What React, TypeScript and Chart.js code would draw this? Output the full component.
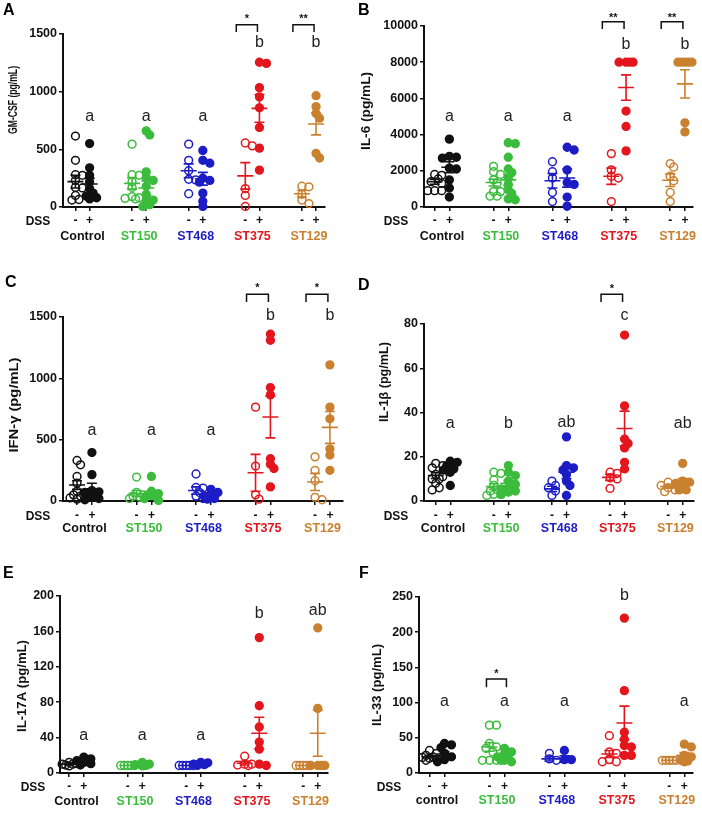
import React, { useEffect, useRef } from 'react';
import { Chart, registerables } from 'chart.js';
Chart.register(...registerables);

const FONT = '"Liberation Sans", Arial, Helvetica, sans-serif';

const groupNames = ['Control', 'ST150', 'ST468', 'ST375', 'ST129'];
const groupNamesF = ['control', 'ST150', 'ST468', 'ST375', 'ST129'];
const groupColors = ['#111111', '#3cbc3c', '#1d1dc6', '#e4161d', '#c98130'];
const dssSigns = ['-', '+'];

// Columns: Control-, Control+, ST150-, ST150+, ST468-, ST468+, ST375-, ST375+, ST129-, ST129+
// A: GM-CSF
const gmcsfPoints: number[][] = [
  [615, 405, 280, 275, 230, 170, 165, 100, 65, 60],
  [550, 340, 275, 220, 160, 120, 95, 80, 70],
  [545, 280, 275, 220, 170, 90, 80, 75, 70],
  [660, 625, 305, 255, 230, 180, 110, 60, 20, 5, 60],
  [545, 405, 315, 240, 235, 115],
  [490, 405, 380, 250, 215, 230, 120, 50, 5],
  [555, 530, 160, 100, 5],
  [1255, 1245, 1035, 955, 860, 690, 510, 320],
  [180, 175, 110, 60, 30],
  [965, 870, 810, 770, 465, 425],
];
const gmcsfMean = [220, 200, 205, 165, 314, 245, 270, 855, 115, 720];
const gmcsfSem = [55, 50, 50, 60, 60, 55, 115, 120, 30, 95];
const gmcsfLetters = ['a', 'a', 'a', 'b', 'b'];
const gmcsfLetterY = [783, 783, 783, 1422, 1422];

// B: IL-6
const il6Points: number[][] = [
  [1800, 1750, 1550, 1300, 1400, 900, 900, 900],
  [3750, 2800, 2750, 2700, 2150, 2100, 1500, 1050, 550],
  [2250, 1950, 1800, 1500, 1300, 850, 850, 600, 600],
  [3550, 3500, 2750, 2100, 1900, 1600, 1250, 950, 750, 450, 400],
  [2500, 1950, 1600, 800, 300],
  [3300, 3150, 2050, 1350, 1250, 550, 50],
  [2950, 2050, 1700, 1600, 300],
  [8000, 8000, 8000, 8000, 5300, 4450, 3100],
  [2400, 2200, 1700, 1450, 800, 300],
  [8000, 8000, 8000, 8000, 8000, 4650, 4150],
];
const il6Mean = [1400, 2200, 1350, 1500, 1450, 1600, 1700, 6600, 1480, 6800];
const il6Sem = [140, 300, 190, 300, 400, 500, 450, 700, 350, 780];
const il6Letters = ['a', 'a', 'a', 'b', 'b'];
const il6LetterY = [5000, 5000, 5000, 8950, 8950];

// C: IFN-gamma
const ifngPoints: number[][] = [
  [330, 295, 200, 145, 80, 65, 50, 40, 25, 15],
  [395, 215, 85, 75, 70, 30, 20, 10],
  [195, 70, 50, 40, 30, 20],
  [200, 80, 60, 50, 45, 40, 20, 5],
  [220, 110, 105, 70, 40, 20],
  [95, 70, 50, 40, 20, 15],
  [765, 285, 50, 15],
  [1360, 1310, 925, 865, 345, 300, 265, 115],
  [360, 250, 165, 30, 10],
  [1110, 765, 670, 425, 375, 250],
];
const ifngMean = [130, 100, 60, 55, 85, 50, 230, 685, 155, 600];
const ifngSem = [35, 45, 25, 22, 30, 12, 150, 170, 70, 130];
const ifngLetters = ['a', 'a', 'a', 'b', 'b'];
const ifngLetterY = [575, 575, 575, 1515, 1515];

// D: IL-1beta
const il1bPoints: number[][] = [
  [17, 16, 15, 12, 11, 10, 10, 8, 6, 5],
  [18, 17.5, 16, 14.5, 14, 13, 7],
  [13, 12.5, 9.5, 7, 5, 4.5, 3, 3, 2.5],
  [16, 13, 11.5, 9, 7.5, 6, 5.5, 4.5, 4, 3],
  [9, 7, 6, 4.5, 2.5],
  [29, 16, 15, 14, 12, 9, 7, 2.5],
  [13, 12.5, 10.5, 10, 5.7],
  [75, 43, 28, 26, 24, 17.5, 14.5],
  [8.5, 7.5, 7, 6, 5, 4.2],
  [17, 9, 8.5, 8, 7, 5, 5],
];
const il1bMean = [11.5, 14.8, 6.5, 8, 5.5, 13, 10.7, 32.8, 6.5, 8.5];
const il1bSem = [1.3, 1.5, 1.3, 1.2, 1.2, 2.8, 1.4, 7.8, 0.7, 1.6];
const il1bLetters = ['a', 'b', 'ab', 'c', 'ab'];
const il1bLetterY = [34.8, 34.8, 35.5, 83.7, 34.8];

// E: IL-17A
const il17Points: number[][] = [
  [12, 11, 10, 10, 9, 8],
  [18, 16, 14, 12, 10.5, 9],
  [8.5, 8.5, 8.5, 8.5, 8.5],
  [12, 10, 9.5, 8.6, 8],
  [8.5, 8.5, 8.5, 8.5, 8.5],
  [12, 11.5, 10, 9.5, 8.6],
  [19, 10, 10, 9, 8.5],
  [153, 76, 52, 35, 27, 10, 8.5],
  [8.5, 8.5, 8.5, 8.5, 8.5],
  [164, 73, 8.5, 8.5, 8.5, 8.5],
];
const il17Mean = [10, 12.5, 8.5, 9.5, 8.5, 10, 11, 45, 8.5, 45];
const il17Sem = [0.7, 1.5, 0, 0.7, 0, 0.6, 2, 18, 0, 26];
const il17Letters = ['a', 'a', 'a', 'b', 'ab'];
const il17LetterY = [42.4, 42.4, 42.4, 180, 184];

// F: IL-33
const il33Points: number[][] = [
  [32, 28, 25, 23, 22, 21, 20, 18],
  [42, 40, 36, 28, 23, 19, 16],
  [68, 68, 42, 37, 35, 30, 18, 18, 18],
  [35, 30, 27, 23, 20, 18, 18, 16],
  [28, 20, 18],
  [32, 19, 19],
  [53, 30, 28, 19, 16, 16],
  [220, 117, 58, 48, 39, 37, 25, 25],
  [18, 18, 18, 18, 18],
  [41, 37, 25, 23, 18, 17, 16],
];
const il33Mean = [23, 27, 37, 24, 20, 20, 27, 71, 18, 25];
const il33Sem = [1.5, 3.5, 6, 2.5, 3, 4.5, 5, 24, 0, 4];
const il33Letters = ['a', 'a', 'a', 'b', 'a'];
const il33LetterY = [100.8, 100.8, 100.8, 252, 100.8];

interface Bracket { group: number; stars: string; }
interface Geo {
  px: number; py: number; w: number; h: number;
  axisL: number; axisR: number; yTop: number; y0: number;
  xmin: number; xmax: number;
  pmY: number; nameY: number; dssX: number;
  titleX: number; titleY: number; titleLen: number; titleSize: number;
  letterX: number; letterY: number;
  brL: number; brR: number;
}
interface Spec {
  tag: string; title: string; names: string[];
  points: number[][]; mean: number[]; sem: number[];
  letters: string[]; letterY: number[];
  ymax: number; ystep: number;
  brackets: Bracket[]; brTop: number; brLeg: number; starY: number;
  geo: Geo;
}

const specs: Spec[] = [
  {
    tag: 'A', title: 'GM-CSF (pg/mL)', names: groupNames,
    points: gmcsfPoints, mean: gmcsfMean, sem: gmcsfSem, letters: gmcsfLetters, letterY: gmcsfLetterY,
    ymax: 1500, ystep: 500,
    brackets: [{ group: 3, stars: '*' }, { group: 4, stars: '**' }], brTop: 1580, brLeg: 1518, starY: 1645,
    geo: { px: 0, py: 0, w: 351, h: 272, axisL: 63, axisR: 325, yTop: 34, y0: 207, xmin: -0.345, xmax: 4.283,
      pmY: 221, nameY: 237, dssX: 38, titleX: 14, titleY: 100, titleLen: 68, titleSize: 12.5,
      letterX: 3, letterY: 11, brL: -9, brR: -2 },
  },
  {
    tag: 'B', title: 'IL-6 (pg/mL)', names: groupNames,
    points: il6Points, mean: il6Mean, sem: il6Sem, letters: il6Letters, letterY: il6LetterY,
    ymax: 10000, ystep: 2000,
    brackets: [{ group: 3, stars: '**' }, { group: 4, stars: '**' }], brTop: 10238, brLeg: 9834, starY: 10530,
    geo: { px: 351, py: 0, w: 351, h: 272, axisL: 424, axisR: 693, yTop: 26, y0: 207, xmin: -0.306, xmax: 4.262,
      pmY: 221, nameY: 237, dssX: 396, titleX: 367, titleY: 111, titleLen: 78, titleSize: 12.5,
      letterX: 358, letterY: 11, brL: -9, brR: -2 },
  },
  {
    tag: 'C', title: 'IFN-\u03b3 (pg/mL)', names: groupNames,
    points: ifngPoints, mean: ifngMean, sem: ifngSem, letters: ifngLetters, letterY: ifngLetterY,
    ymax: 1500, ystep: 500,
    brackets: [{ group: 3, stars: '*' }, { group: 4, stars: '*' }], brTop: 1685, brLeg: 1622, starY: 1750,
    geo: { px: 0, py: 272, w: 351, h: 272, axisL: 63, axisR: 343, yTop: 317, y0: 501, xmin: -0.361, xmax: 4.345,
      pmY: 516, nameY: 529, dssX: 38, titleX: 15, titleY: 405, titleLen: 95, titleSize: 12.5,
      letterX: 5, letterY: 283, brL: -9, brR: -2 },
  },
  {
    tag: 'D', title: 'IL-1\u03b2 (pg/mL)', names: groupNames,
    points: il1bPoints, mean: il1bMean, sem: il1bSem, letters: il1bLetters, letterY: il1bLetterY,
    ymax: 80, ystep: 20,
    brackets: [{ group: 3, stars: '*' }], brTop: 93.4, brLeg: 89.9, starY: 96.8,
    geo: { px: 351, py: 272, w: 351, h: 272, axisL: 424, axisR: 694, yTop: 324, y0: 501, xmin: -0.327, xmax: 4.32,
      pmY: 516, nameY: 529, dssX: 396, titleX: 385, titleY: 382, titleLen: 80, titleSize: 12.5,
      letterX: 358, letterY: 286, brL: -9, brR: -2 },
  },
  {
    tag: 'E', title: 'IL-17A (pg/mL)', names: groupNames,
    points: il17Points, mean: il17Mean, sem: il17Sem, letters: il17Letters, letterY: il17LetterY,
    ymax: 200, ystep: 40,
    brackets: [], brTop: 0, brLeg: 0, starY: 0,
    geo: { px: 0, py: 544, w: 351, h: 271, axisL: 60, axisR: 328, yTop: 596, y0: 773, xmin: -0.282, xmax: 4.3,
      pmY: 787, nameY: 802, dssX: 33, titleX: 23, titleY: 686, titleLen: 92, titleSize: 12.5,
      letterX: 3, letterY: 574, brL: -9, brR: -2 },
  },
  {
    tag: 'F', title: 'IL-33 (pg/mL)', names: groupNamesF,
    points: il33Points, mean: il33Mean, sem: il33Sem, letters: il33Letters, letterY: il33LetterY,
    ymax: 250, ystep: 50,
    brackets: [{ group: 1, stars: '*' }], brTop: 133.5, brLeg: 121.7, starY: 143,
    geo: { px: 351, py: 544, w: 351, h: 271, axisL: 419, axisR: 693, yTop: 597, y0: 773, xmin: -0.3, xmax: 4.27,
      pmY: 787, nameY: 801, dssX: 389, titleX: 378, titleY: 685, titleLen: 82, titleSize: 12.5,
      letterX: 359, letterY: 574, brL: -3, brR: 2 },
  },
];

const colX = (c: number) => Math.floor(c / 2) + (c % 2 === 0 ? -0.125 : 0.125);

function swarmOffsets(values: number[], pxY: number, pxX: number): number[] {
  const minD = 5;
  const order = values.map((_, i) => i).sort((a, b) => values[b] - values[a]);
  const placed: [number, number][] = [];
  const out = new Array(values.length).fill(0);
  const cands = [0, 0.7, -0.7, 1.4, -1.4];
  for (const i of order) {
    const y = values[i] * pxY;
    let best = 0;
    let bestD = -1;
    for (const k of cands) {
      const x = k * minD;
      let d = Infinity;
      for (const [qx, qy] of placed) d = Math.min(d, Math.hypot(qx - x, qy - y));
      if (d >= minD) { best = x; bestD = d; break; }
      if (d > bestD + 0.5) { bestD = d; best = x; }
    }
    placed.push([best, y]);
    out[i] = best / pxX;
  }
  return out;
}

function makePlugin(s: Spec) {
  const g = s.geo;
  return {
    id: 'anno' + s.tag,
    afterDatasetsDraw(chart: any) {
      const ctx = chart.ctx;
      const xs = chart.scales.x;
      const ys = chart.scales.y;
      s.mean.forEach((m, c) => {
        const col = groupColors[Math.floor(c / 2)];
        const x = xs.getPixelForValue(colX(c));
        const ym = ys.getPixelForValue(m);
        const yh = ys.getPixelForValue(m + s.sem[c]);
        const yl = ys.getPixelForValue(Math.max(0, m - s.sem[c]));
        ctx.save();
        ctx.strokeStyle = col;
        ctx.lineWidth = 1.6;
        ctx.beginPath();
        ctx.moveTo(x - 8, ym); ctx.lineTo(x + 8, ym);
        if (s.sem[c] > 0) {
          ctx.moveTo(x, yh); ctx.lineTo(x, yl);
          ctx.moveTo(x - 5, yh); ctx.lineTo(x + 5, yh);
          ctx.moveTo(x - 5, yl); ctx.lineTo(x + 5, yl);
        }
        ctx.stroke();
        ctx.restore();
      });
    },
    afterDraw(chart: any) {
      const ctx = chart.ctx;
      const xs = chart.scales.x;
      const ys = chart.scales.y;
      const ox = g.px, oy = g.py;
      ctx.save();
      ctx.textAlign = 'center';
      ctx.textBaseline = 'middle';
      // -/+ signs
      ctx.fillStyle = '#111';
      ctx.font = `bold 12px ${FONT}`;
      for (let c = 0; c < 10; c++) {
        ctx.fillText(dssSigns[c % 2], xs.getPixelForValue(colX(c)), g.pmY - oy);
      }
      ctx.fillText('DSS', g.dssX - ox, g.pmY - oy + 1);
      // group names
      ctx.font = `bold 12.5px ${FONT}`;
      s.names.forEach((n, i) => {
        ctx.fillStyle = groupColors[i];
        ctx.fillText(n, xs.getPixelForValue(i), g.nameY - oy);
      });
      // letters
      ctx.fillStyle = '#222';
      ctx.font = `16px ${FONT}`;
      s.letters.forEach((l, i) => {
        ctx.fillText(l, xs.getPixelForValue(colX(i * 2 + 1)), ys.getPixelForValue(s.letterY[i]));
      });
      // brackets
      ctx.strokeStyle = '#111';
      ctx.lineWidth = 1.5;
      ctx.font = `bold 11px ${FONT}`;
      ctx.fillStyle = '#111';
      s.brackets.forEach((b) => {
        const x1 = xs.getPixelForValue(colX(b.group * 2)) + g.brL;
        const x2 = xs.getPixelForValue(colX(b.group * 2 + 1)) + g.brR;
        const yt = ys.getPixelForValue(s.brTop);
        const yl = ys.getPixelForValue(s.brLeg);
        ctx.beginPath();
        ctx.moveTo(x1, yl); ctx.lineTo(x1, yt); ctx.lineTo(x2, yt); ctx.lineTo(x2, yl);
        ctx.stroke();
        ctx.fillText(b.stars, (x1 + x2) / 2, ys.getPixelForValue(s.starY) + 2);
      });
      // y title
      ctx.save();
      ctx.translate(g.titleX - ox, g.titleY - oy);
      ctx.rotate(-Math.PI / 2);
      ctx.font = `bold ${g.titleSize}px ${FONT}`;
      const tw = ctx.measureText(s.title).width;
      ctx.scale(g.titleLen / tw, 1);
      ctx.fillStyle = '#111';
      ctx.fillText(s.title, 0, 0);
      ctx.restore();
      // panel letter
      ctx.textAlign = 'left';
      ctx.font = `bold 16px ${FONT}`;
      ctx.fillStyle = '#000';
      ctx.fillText(s.tag, g.letterX - ox, g.letterY - oy);
      ctx.restore();
    },
  };
}

function Panel({ spec }: { spec: Spec }) {
  const ref = useRef<HTMLCanvasElement>(null);
  useEffect(() => {
    const s = spec;
    const g = s.geo;
    const pxY = (g.y0 - g.yTop) / s.ymax;
    const pxX = (g.axisR - g.axisL) / (g.xmax - g.xmin);
    const datasets = s.points.map((vals, c) => {
      const col = groupColors[Math.floor(c / 2)];
      const offs = swarmOffsets(vals, pxY, pxX);
      const open = c % 2 === 0;
      return {
        type: 'scatter' as const,
        data: vals.map((v, i) => ({ x: colX(c) + offs[i], y: v })),
        pointRadius: 3.9,
        pointBorderWidth: 1.5,
        pointBorderColor: col,
        pointBackgroundColor: open ? 'rgba(255,255,255,0)' : col,
        showLine: false,
        clip: false as any,
      };
    });
    const ticksX = [0, 1, 2, 3, 4, 5, 6, 7, 8, 9].map((c) => ({ value: colX(c) }));
    const chart = new Chart(ref.current!, {
      type: 'scatter',
      data: { datasets },
      options: {
        animation: false,
        responsive: false,
        devicePixelRatio: 1,
        events: [],
        layout: { padding: { left: 0, top: g.yTop - g.py, right: g.w - (g.axisR - g.px), bottom: 0 } },
        plugins: { legend: { display: false }, tooltip: { enabled: false } },
        scales: {
          x: {
            type: 'linear',
            min: g.xmin,
            max: g.xmax,
            afterBuildTicks: (axis: any) => { axis.ticks = ticksX.map((t) => ({ ...t })); },
            afterFit: (axis: any) => { axis.height = g.py + g.h - g.y0; },
            ticks: { autoSkip: false, callback: () => '', padding: 0 },
            grid: { display: true, drawOnChartArea: false, drawTicks: true, tickLength: 4, color: '#111', lineWidth: 1.5 },
            border: { display: true, color: '#111', width: 2 },
          },
          y: {
            type: 'linear',
            min: 0,
            max: s.ymax,
            afterFit: (axis: any) => { axis.width = g.axisL - g.px; },
            ticks: { stepSize: s.ystep, color: '#111', padding: 2, callback: (v: any) => String(v), font: { family: FONT, size: 12.5, weight: 'bold' } },
            grid: { display: true, drawOnChartArea: false, drawTicks: true, tickLength: 4, color: '#111', lineWidth: 1.5 },
            border: { display: true, color: '#111', width: 2 },
          },
        },
      },
      plugins: [makePlugin(s)],
    } as any);
    return () => chart.destroy();
  }, [spec]);
  const g = spec.geo;
  return (
    <canvas
      ref={ref}
      width={g.w}
      height={g.h}
      style={{ position: 'absolute', left: g.px, top: g.py, width: g.w, height: g.h }}
    />
  );
}

export default function App() {
  return (
    <div style={{ position: 'absolute', left: 0, top: 0, width: 702, height: 815, background: '#fff', overflow: 'hidden' }}>
      {specs.map((s) => (
        <Panel key={s.tag} spec={s} />
      ))}
    </div>
  );
}
